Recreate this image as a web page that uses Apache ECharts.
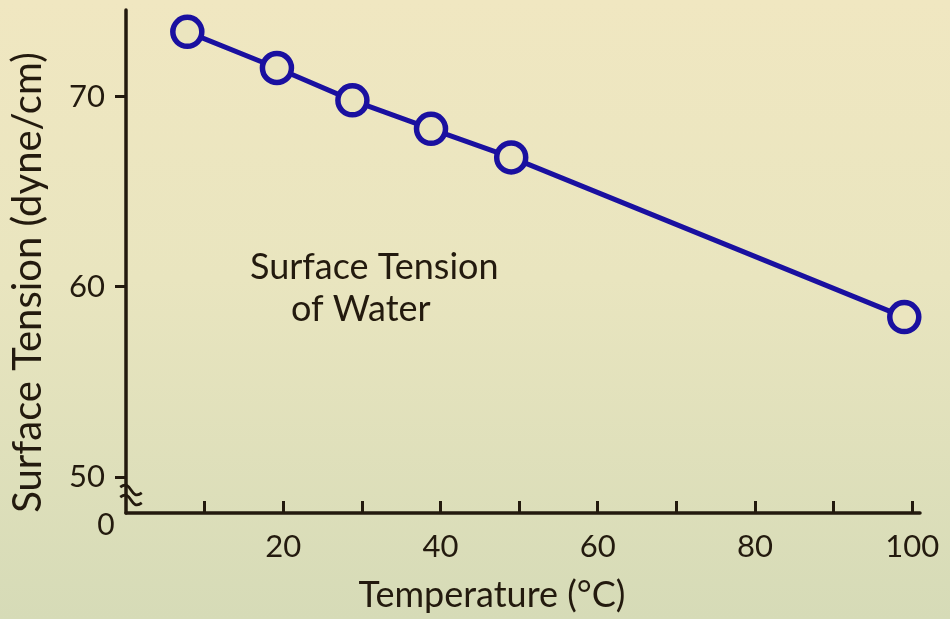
<!DOCTYPE html>
<html>
<head>
<meta charset="utf-8">
<script src="https://cdn.jsdelivr.net/npm/echarts@6/dist/echarts.min.js"></script>
<style>
html,body{margin:0;padding:0;}
#c{width:950px;height:619px;background:linear-gradient(180deg,#f0e7c1 0%,#e9e5bf 45%,#d6dbb7 100%);}
</style>
</head>
<body>
<div id="c"></div>
<script>
const temperatures = [7.8, 19.2, 28.8, 38.8, 49.0, 99.0];
const tensions = [73.4, 71.5, 69.8, 68.3, 66.8, 58.4];
const xTickValues = [10, 20, 30, 40, 50, 60, 70, 80, 90, 100];
const xLabelValues = [20, 40, 60, 80, 100];
const yLabelValues = [50, 60, 70];
const xTitle = 'Temperature (°C)';
const yTitle = 'Surface Tension (dyne/cm)';
const noteLines = ['Surface Tension', 'of Water'];

const FONT = 'Lato';
const ink = '#231a0e';
const blue = '#1a10a0';
const waveShape = {x1: -11, y1: 2, cpx1: -4, cpy1: -11, cpx2: 4, cpy2: 11, x2: 11, y2: -2};

const chart = echarts.init(document.getElementById('c'), null, {renderer: 'canvas'});
chart.setOption({
  backgroundColor: 'transparent',
  animation: false,
  grid: {left: 126, right: 30, top: 10, bottom: 106, containLabel: false},
  xAxis: {
    type: 'value', min: 0, max: 101,
    name: xTitle, nameLocation: 'middle', nameGap: 64,
    nameTextStyle: {fontFamily: FONT, fontSize: 36, color: ink, padding: [0, 62, 0, 0]},
    axisLine: {show: true, lineStyle: {color: ink, width: 3.5}},
    axisTick: {show: true, inside: true, length: 12, customValues: xTickValues, lineStyle: {color: ink, width: 3}},
    axisLabel: {customValues: xLabelValues, fontFamily: FONT, fontSize: 31, color: ink, margin: 18},
    splitLine: {show: false}
  },
  yAxis: {
    type: 'value', min: 48.1, max: 74.55,
    name: yTitle, nameLocation: 'middle', nameGap: 78,
    nameTextStyle: {fontFamily: FONT, fontSize: 40, color: ink, padding: [0, 42, 0, 0]},
    axisLine: {show: true, lineStyle: {color: ink, width: 3.5}},
    axisTick: {show: true, inside: false, length: 11, customValues: yLabelValues, lineStyle: {color: ink, width: 3}},
    axisLabel: {customValues: yLabelValues, fontFamily: FONT, fontSize: 31, color: ink, margin: 21},
    splitLine: {show: false}
  },
  series: [{
    type: 'line',
    data: temperatures.map((t, i) => [t, tensions[i]]),
    symbol: 'circle',
    symbolSize: 29,
    showAllSymbol: true,
    lineStyle: {color: blue, width: 5},
    itemStyle: {color: '#ebe5bf', borderColor: blue, borderWidth: 5.5},
    z: 5
  }],
  graphic: [
    {type: 'text', x: 250, y: 267, style: {text: noteLines[0], font: '36px ' + FONT, fill: ink, verticalAlign: 'middle'}},
    {type: 'text', x: 291, y: 309, style: {text: noteLines[1], font: '36px ' + FONT, fill: ink, verticalAlign: 'middle'}},
    {type: 'text', x: 106, y: 525, style: {text: '0', font: '30px ' + FONT, fill: ink, align: 'center', verticalAlign: 'middle'}},
    {type: 'bezierCurve', x: 131, y: 490, rotation: -0.45, shape: waveShape, style: {fill: null, stroke: ink, lineWidth: 2.8}, z: 10},
    {type: 'bezierCurve', x: 131, y: 500, rotation: -0.45, shape: waveShape, style: {fill: null, stroke: ink, lineWidth: 2.8}, z: 10}
  ]
});
</script>
</body>
</html>
